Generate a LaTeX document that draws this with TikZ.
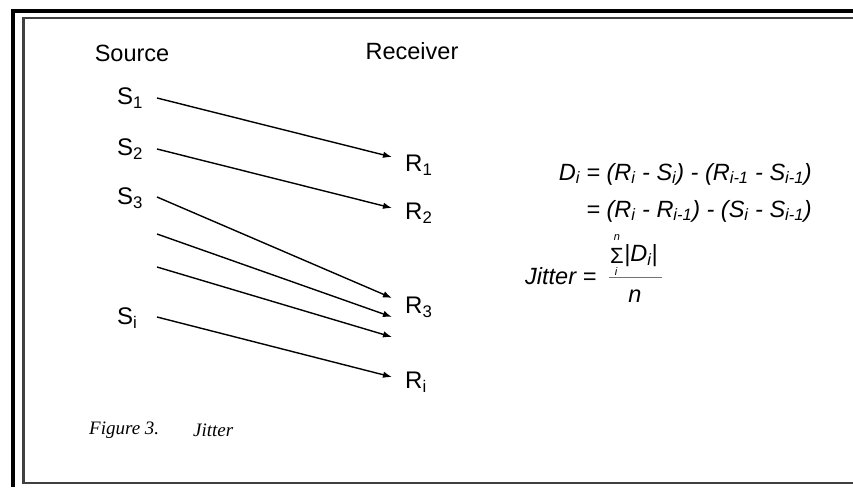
\documentclass[tikz,border=0pt]{standalone}
\usepackage{fontspec}
\setmainfont{Liberation Sans}
\newfontfamily\captionfont{Liberation Serif}
\usetikzlibrary{arrows.meta}

\begin{document}
\begin{tikzpicture}[
  x = 1pt, y = -1pt,
  % labels sit exactly where they are placed
  head/.style    = {inner sep=0pt, font=\fontsize{23.5}{26}\selectfont},
  label/.style   = {inner sep=0pt, anchor=west, font=\fontsize{24}{26}\selectfont},
  eqn/.style     = {inner sep=0pt, font=\fontsize{23.5}{26}\selectfont\itshape},
  small/.style   = {inner sep=0pt, font=\fontsize{11}{12}\selectfont\itshape},
  msg/.style     = {-{Latex[length=9pt,width=6.5pt]}, line width=1.4pt},
  caption/.style = {inner sep=0pt, anchor=west, font=\fontsize{19}{21}\selectfont\captionfont\itshape},
]
\useasboundingbox (0, 0) rectangle (853, 487);

% --- frame, cut off on the right
\draw[line width=4pt] (13, 487) -- (13, 11) -- (853, 11);
\draw[line width=2.4pt, black!75] (853, 18) -- (23.5, 18) -- (23.5, 483) -- (853, 483);

% --- column heads
\node[head] (source)   at (132, 53) {Source};
\node[head] (receiver) at (412, 51) {Receiver};

% --- sent and received packets
\node[label] (S1) at (117, 98)  {S\textsubscript{1}};
\node[label] (S2) at (117, 149) {S\textsubscript{2}};
\node[label] (S3) at (117, 198) {S\textsubscript{3}};
\node[label] (Si) at (117, 318) {S\textsubscript{i}};
\node[label] (R1) at (405, 165) {R\textsubscript{1}};
\node[label] (R2) at (405, 213) {R\textsubscript{2}};
\node[label] (R3) at (405, 307) {R\textsubscript{3}};
\node[label] (Ri) at (405, 382) {R\textsubscript{i}};

\coordinate (src1) at (157, 98);
\coordinate (src2) at (157, 149);
\coordinate (src3) at (157, 197);
\coordinate (src4) at (157, 234);
\coordinate (src5) at (157, 267);
\coordinate (src6) at (157, 317);
\coordinate (dst1) at (392, 157);
\coordinate (dst2) at (392, 208);
\coordinate (dst3) at (392, 298);
\coordinate (dst4) at (392, 317);
\coordinate (dst5) at (392, 337);
\coordinate (dst6) at (392, 377);

\draw[msg] (src1) -- (dst1);
\draw[msg] (src2) -- (dst2);
\draw[msg] (src3) -- (dst3);
\draw[msg] (src4) -- (dst4);
\draw[msg] (src5) -- (dst5);
\draw[msg] (src6) -- (dst6);

% --- formulas
\node[eqn, anchor=east] (delay) at (812, 174)
  {D\textsubscript{i} = (R\textsubscript{i} - S\textsubscript{i}) - (R\textsubscript{i-1} - S\textsubscript{i-1})};
\node[eqn, anchor=east] (delay2) at (812, 211)
  {= (R\textsubscript{i} - R\textsubscript{i-1}) - (S\textsubscript{i} - S\textsubscript{i-1})};
\node[eqn, anchor=west] (jitter) at (525, 276) {Jitter =};
\node[inner sep=0pt, font=\fontsize{22}{24}\selectfont] (sigma) at (617, 256) {Σ};
\node[small] (sigtop) at (617, 238) {n};
\node[small] (sigbot) at (616, 272) {i};
\node[eqn, anchor=west] (absd) at (624, 256) {|D\textsubscript{i}|};
\draw[line width=1pt, black!55] (609, 277) -- (662, 277);
\node[eqn] (count) at (635, 296) {n};

% --- caption
\node[caption] (fig)  at (89, 430)  {Figure 3.};
\node[caption] (name) at (193, 430) {Jitter};

\end{tikzpicture}
\end{document}
